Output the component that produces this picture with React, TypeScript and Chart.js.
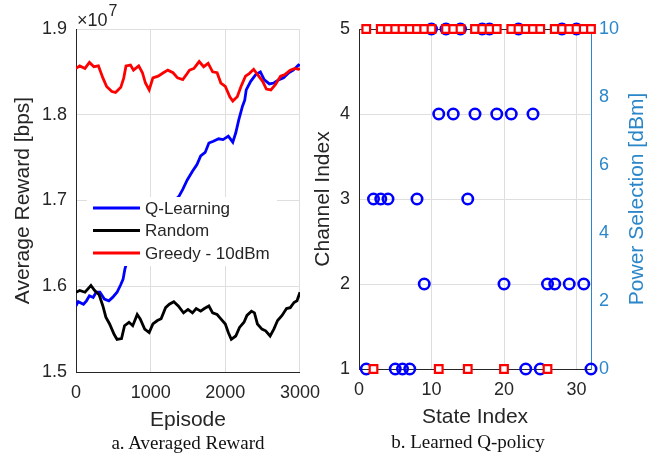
import React, { useEffect, useRef } from "react";
import { Chart, registerables } from "chart.js";

Chart.register(...registerables);

// ---------- Panel a: Averaged reward (values in units of 10^7 bps) ----------
const rewardExponent = 7;
const episodeTicks = [0, 1000, 2000, 3000];
const rewardTicks = [1.5, 1.6, 1.7, 1.8, 1.9];

const qEpisodes = [0, 30, 100, 140, 180, 230, 270, 320, 380, 440, 490, 550, 600, 630, 655, 680, 800, 1000, 1200, 1380, 1430, 1490, 1560, 1620, 1670, 1730, 1780, 1840, 1910, 1970, 2040, 2100, 2140, 2180, 2230, 2260, 2280, 2340, 2410, 2470, 2520, 2590, 2650, 2720, 2780, 2850, 2910, 2980, 3000];
const qReward = [1.577, 1.582, 1.579, 1.583, 1.589, 1.587, 1.593, 1.593, 1.585, 1.583, 1.587, 1.593, 1.602, 1.608, 1.62, 1.628, 1.645, 1.67, 1.69, 1.705, 1.713, 1.724, 1.734, 1.742, 1.752, 1.756, 1.767, 1.769, 1.772, 1.771, 1.775, 1.768, 1.779, 1.794, 1.81, 1.817, 1.829, 1.839, 1.847, 1.85, 1.841, 1.836, 1.837, 1.841, 1.843, 1.849, 1.852, 1.858, 1.857];

const randEpisodes = [0, 50, 120, 160, 200, 250, 310, 360, 400, 450, 510, 550, 610, 650, 710, 760, 820, 860, 920, 980, 1030, 1090, 1140, 1200, 1250, 1310, 1370, 1440, 1500, 1560, 1610, 1670, 1720, 1780, 1830, 1890, 1940, 2000, 2040, 2080, 2140, 2190, 2250, 2290, 2350, 2390, 2430, 2490, 2540, 2600, 2650, 2700, 2760, 2820, 2870, 2920, 2960, 3000];
const randReward = [1.593, 1.595, 1.593, 1.597, 1.601, 1.595, 1.59, 1.577, 1.564, 1.556, 1.544, 1.538, 1.539, 1.554, 1.558, 1.554, 1.567, 1.562, 1.55, 1.546, 1.556, 1.56, 1.562, 1.575, 1.579, 1.582, 1.577, 1.569, 1.573, 1.569, 1.574, 1.571, 1.574, 1.577, 1.569, 1.567, 1.562, 1.556, 1.546, 1.538, 1.542, 1.552, 1.558, 1.566, 1.571, 1.569, 1.556, 1.55, 1.548, 1.542, 1.55, 1.56, 1.566, 1.574, 1.575, 1.581, 1.583, 1.593];

const greedyEpisodes = [0, 50, 120, 180, 240, 300, 360, 410, 480, 530, 600, 640, 670, 730, 770, 840, 890, 930, 980, 1030, 1100, 1170, 1230, 1300, 1360, 1430, 1480, 1520, 1580, 1650, 1710, 1770, 1830, 1890, 1940, 2000, 2060, 2100, 2160, 2210, 2270, 2320, 2380, 2430, 2500, 2550, 2610, 2670, 2740, 2800, 2870, 2930, 2980, 3000];
const greedyReward = [1.854, 1.857, 1.854, 1.861, 1.856, 1.857, 1.843, 1.833, 1.827, 1.826, 1.832, 1.843, 1.857, 1.858, 1.852, 1.857, 1.849, 1.837, 1.829, 1.843, 1.845, 1.849, 1.852, 1.849, 1.843, 1.841, 1.847, 1.852, 1.854, 1.862, 1.856, 1.86, 1.85, 1.849, 1.837, 1.833, 1.821, 1.816, 1.821, 1.833, 1.845, 1.848, 1.853, 1.847, 1.839, 1.83, 1.829, 1.835, 1.845, 1.847, 1.852, 1.854, 1.853, 1.854];

const seriesLabels = ["Q-Learning", "Random", "Greedy - 10dBm"];
const seriesColors = ["#0000ff", "#000000", "#ff0000"];

// ---------- Panel b: Learned Q-policy ----------
const stateIndex = [1, 2, 3, 4, 5, 6, 7, 8, 9, 10, 11, 12, 13, 14, 15, 16, 17, 18, 19, 20, 21, 22, 23, 24, 25, 26, 27, 28, 29, 30, 31, 32];
const channelIndex = [5, 1, 5, 5, 5, 5, 5, 5, 5, 5, 1, 5, 5, 5, 1, 5, 5, 5, 5, 1, 5, 5, 5, 5, 5, 1, 5, 5, 5, 5, 5, 5];
const powerSelection = [0, 5, 5, 5, 0, 0, 0, 5, 2.5, 10, 7.5, 10, 7.5, 10, 5, 7.5, 10, 10, 7.5, 2.5, 7.5, 10, 0, 7.5, 0, 2.5, 2.5, 10, 2.5, 10, 2.5, 0];
const stateTicks = [0, 10, 20, 30];
const channelTicks = [1, 2, 3, 4, 5];
const powerTicks = [0, 2, 4, 6, 8, 10];
const powerTitle = "Power Selection [dBm]";

const FONT = "'Liberation Sans', Arial, Helvetica, sans-serif";
const SERIF = "'Liberation Serif', 'Times New Roman', serif";
const TICK = "#262626";
const AXIS = "#262626";
const GRID = "#dedede";
const POWER_BLUE = "#2b87c9";
const TICK_SIZE = 18;
const TITLE_SIZE = 21;

const pts = (xs: number[], ys: number[]) => xs.map((x, i) => ({ x, y: ys[i] }));
const fixTicks = (vals: number[]) => (s: any) => {
  s.ticks = vals.map((v) => ({ value: v }));
};

const insideLegend = {
  id: "insideLegend",
  afterDatasetsDraw(chart: any) {
    const { ctx, chartArea } = chart;
    const bx = chartArea.left + 11;
    const by = chartArea.top + 168;
    ctx.save();
    ctx.fillStyle = "#ffffff";
    ctx.fillRect(bx, by, 190, 69);
    ctx.font = `17px ${FONT}`;
    ctx.textBaseline = "middle";
    ctx.textAlign = "left";
    chart.data.datasets.forEach((ds: any, i: number) => {
      const yy = by + 11 + i * 22.5;
      ctx.strokeStyle = ds.borderColor;
      ctx.lineWidth = 3;
      ctx.beginPath();
      ctx.moveTo(bx + 6, yy);
      ctx.lineTo(bx + 53, yy);
      ctx.stroke();
      ctx.fillStyle = TICK;
      ctx.fillText(ds.label, bx + 58, yy + 1);
    });
    ctx.restore();
  },
};

const exponentLabel = {
  id: "exponentLabel",
  afterDraw(chart: any) {
    const { ctx, chartArea } = chart;
    ctx.save();
    ctx.fillStyle = TICK;
    ctx.textBaseline = "alphabetic";
    ctx.font = `18px ${FONT}`;
    const base = "\u00d710";
    ctx.fillText(base, chartArea.left + 1, chartArea.top - 3);
    const w = ctx.measureText(base).width;
    ctx.font = `16px ${FONT}`;
    ctx.fillText(String(rewardExponent), chartArea.left + 2 + w, chartArea.top - 13);
    ctx.restore();
  },
};

const rightDecor = {
  id: "rightDecor",
  beforeDatasetsDraw(chart: any) {
    const { ctx, chartArea } = chart;
    ctx.save();
    ctx.strokeStyle = AXIS;
    ctx.lineWidth = 1;
    ctx.beginPath();
    ctx.moveTo(chartArea.left, chartArea.top + 0.5);
    ctx.lineTo(chartArea.right, chartArea.top + 0.5);
    ctx.stroke();
    ctx.restore();
  },
  afterDraw(chart: any) {
    const { ctx, chartArea } = chart;
    ctx.save();
    ctx.translate(chartArea.right + 46, (chartArea.top + chartArea.bottom) / 2);
    ctx.rotate(-Math.PI / 2);
    ctx.fillStyle = POWER_BLUE;
    ctx.font = `${TITLE_SIZE}px ${FONT}`;
    ctx.textAlign = "center";
    ctx.textBaseline = "middle";
    ctx.fillText(powerTitle, 0, 0);
    ctx.restore();
  },
};

export default function App() {
  const leftRef = useRef<HTMLCanvasElement>(null);
  const rightRef = useRef<HTMLCanvasElement>(null);

  useEffect(() => {
    document.body.style.margin = "0";
    Chart.defaults.font.family = FONT;

    const rewardSeries = [
      pts(qEpisodes, qReward),
      pts(randEpisodes, randReward),
      pts(greedyEpisodes, greedyReward),
    ];

    const left = new Chart(leftRef.current as HTMLCanvasElement, {
      type: "line",
      data: {
        datasets: rewardSeries.map((d, i) => ({
          label: seriesLabels[i],
          data: d,
          borderColor: seriesColors[i],
          backgroundColor: seriesColors[i],
          borderWidth: 2.8,
          pointRadius: 0,
          tension: 0,
          order: 3 - i,
        })),
      },
      options: {
        animation: false,
        responsive: false,
        events: [],
        layout: { padding: { left: 0, top: 29, right: 25, bottom: 0 } },
        plugins: { legend: { display: false }, tooltip: { enabled: false } },
        scales: {
          x: {
            type: "linear",
            min: 0,
            max: 3000,
            afterBuildTicks: fixTicks(episodeTicks),
            afterFit: (s: any) => { s.height = 87; },
            ticks: { color: TICK, font: { size: TICK_SIZE }, padding: 10, maxRotation: 0, callback: (v: any) => String(v) },
            grid: { color: GRID, drawTicks: false },
            border: { color: AXIS, width: 1 },
            title: { display: true, text: "Episode", color: TICK, font: { size: TITLE_SIZE }, padding: { top: 0, bottom: 26 } },
          },
          y: {
            type: "linear",
            min: 1.5,
            max: 1.9,
            afterBuildTicks: fixTicks(rewardTicks),
            afterFit: (s: any) => { s.width = 76; },
            ticks: { color: TICK, font: { size: TICK_SIZE }, padding: 9, callback: (v: any) => Number(v).toFixed(1) },
            grid: { color: GRID, drawTicks: false },
            border: { color: AXIS, width: 1 },
            title: { display: true, text: "Average Reward [bps]", color: TICK, font: { size: TITLE_SIZE }, padding: { top: 11, bottom: 0 } },
          },
        },
      },
      plugins: [insideLegend, exponentLabel],
    } as any);

    const right = new Chart(rightRef.current as HTMLCanvasElement, {
      type: "scatter",
      data: {
        datasets: [
          {
            label: "Channel Index",
            data: pts(stateIndex, channelIndex),
            yAxisID: "y",
            pointStyle: "rect",
            pointRadius: 5.4,
            borderColor: "#ff0000",
            backgroundColor: "#ffffff",
            borderWidth: 2.2,
            showLine: false,
            clip: false,
          },
          {
            label: "Power Selection",
            data: pts(stateIndex, powerSelection),
            yAxisID: "y1",
            pointStyle: "circle",
            pointRadius: 5.2,
            borderColor: "#0000ff",
            backgroundColor: "rgba(0,0,0,0)",
            borderWidth: 2.6,
            showLine: false,
            clip: false,
          },
        ],
      },
      options: {
        animation: false,
        responsive: false,
        events: [],
        layout: { padding: { left: 0, top: 29, right: 0, bottom: 0 } },
        plugins: { legend: { display: false }, tooltip: { enabled: false } },
        scales: {
          x: {
            type: "linear",
            min: 0,
            max: 32,
            afterBuildTicks: fixTicks(stateTicks),
            afterFit: (s: any) => { s.height = 90; },
            ticks: { color: TICK, font: { size: TICK_SIZE }, padding: 10, maxRotation: 0, callback: (v: any) => String(v) },
            grid: { color: GRID, drawTicks: false },
            border: { color: AXIS, width: 1 },
            title: { display: true, text: "State Index", color: TICK, font: { size: TITLE_SIZE }, padding: { top: 0, bottom: 29 } },
          },
          y: {
            type: "linear",
            position: "left",
            min: 1,
            max: 5,
            afterBuildTicks: fixTicks(channelTicks),
            afterFit: (s: any) => { s.width = 54; },
            ticks: { color: TICK, font: { size: TICK_SIZE }, padding: 9 },
            grid: { color: GRID, drawTicks: false },
            border: { color: AXIS, width: 1 },
            title: { display: true, text: "Channel Index", color: TICK, font: { size: TITLE_SIZE }, padding: { top: 6, bottom: 0 } },
          },
          y1: {
            type: "linear",
            position: "right",
            min: 0,
            max: 10,
            afterBuildTicks: fixTicks(powerTicks),
            afterFit: (s: any) => { s.width = 79; },
            ticks: { color: POWER_BLUE, font: { size: TICK_SIZE }, padding: 8 },
            grid: { drawOnChartArea: false, drawTicks: false },
            border: { color: POWER_BLUE, width: 1 },
            title: { display: false },
          },
        },
      },
      plugins: [rightDecor],
    } as any);

    return () => {
      left.destroy();
      right.destroy();
    };
  }, []);

  const caption: React.CSSProperties = {
    position: "absolute",
    width: 220,
    fontFamily: SERIF,
    fontSize: 19,
    lineHeight: "24px",
    textAlign: "center",
    color: "#111111",
    whiteSpace: "nowrap",
  };

  return (
    <div style={{ position: "relative", width: 670, height: 459, background: "#ffffff", overflow: "hidden" }}>
      <canvas ref={leftRef} width={330} height={459} style={{ position: "absolute", left: 0, top: 0 }} />
      <canvas ref={rightRef} width={365} height={459} style={{ position: "absolute", left: 305, top: 0 }} />
      <div style={{ ...caption, left: 78, top: 431 }}>a. Averaged Reward</div>
      <div style={{ ...caption, left: 358, top: 430 }}>b. Learned Q-policy</div>
    </div>
  );
}
